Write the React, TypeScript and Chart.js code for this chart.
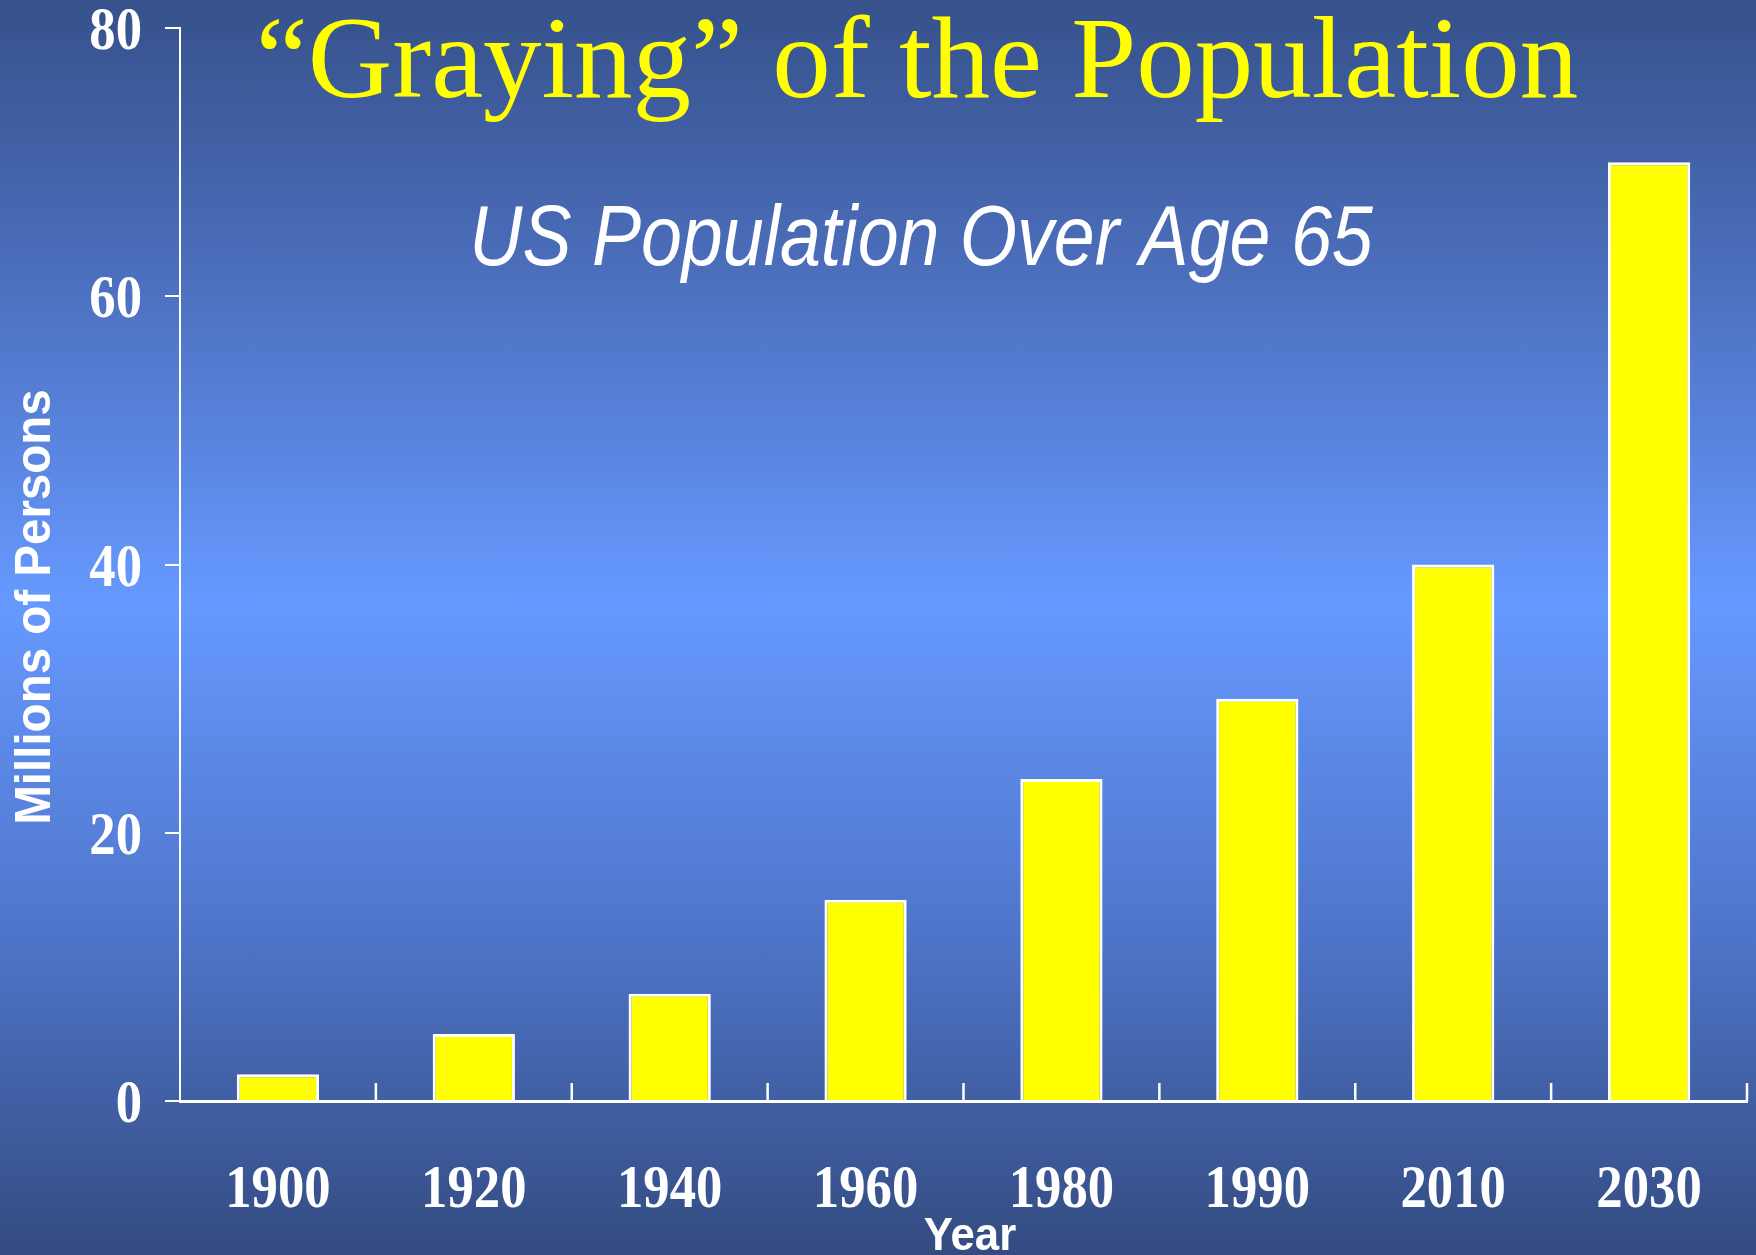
import React, { useEffect, useRef } from 'react';
import { Chart, registerables } from 'chart.js';

Chart.register(...registerables);

const categories = ['1900', '1920', '1940', '1960', '1980', '1990', '2010', '2030'];
const values = [2, 5, 8, 15, 24, 30, 40, 70];
const yTicks = [0, 20, 40, 60, 80];
const titleText = '\u201CGraying\u201D of the Population';
const subtitleText = 'US Population Over Age 65';
const yAxisTitle = 'Millions of Persons';
const xAxisTitle = 'Year';

const W = 1756;
const H = 1255;

function drawScaled(
  ctx: CanvasRenderingContext2D,
  text: string,
  x: number,
  y: number,
  font: string,
  sx: number,
  align: CanvasTextAlign,
  color: string,
  rotate = 0
) {
  ctx.save();
  ctx.translate(x, y);
  if (rotate) ctx.rotate(rotate);
  ctx.scale(sx, 1);
  ctx.font = font;
  ctx.fillStyle = color;
  ctx.textAlign = align;
  ctx.textBaseline = 'alphabetic';
  ctx.fillText(text, 0, 0);
  ctx.restore();
}

const overlayPlugin = {
  id: 'overlay',
  afterDraw(chart: any) {
    const ctx: CanvasRenderingContext2D = chart.ctx;
    const xs = chart.scales.x;
    const ys = chart.scales.y;
    const area = chart.chartArea;
    ctx.save();
    // category separator ticks (pointing up into the plot)
    ctx.strokeStyle = '#ffffff';
    ctx.lineWidth = 2.5;
    for (let i = 0; i < categories.length; i++) {
      const px =
        i < categories.length - 1
          ? (xs.getPixelForValue(i) + xs.getPixelForValue(i + 1)) / 2
          : area.right;
      ctx.beginPath();
      ctx.moveTo(px, area.bottom);
      ctx.lineTo(px, area.bottom - 18);
      ctx.stroke();
    }
    ctx.restore();

    const tickFont = 'bold 62px "Liberation Serif", "Times New Roman", serif';
    // y tick labels
    yTicks.forEach((v) => {
      const py = ys.getPixelForValue(v);
      drawScaled(ctx, String(v), area.left - 38, py + 21, tickFont, 0.85, 'right', '#ffffff');
    });
    // x tick labels
    categories.forEach((c, i) => {
      const px = xs.getPixelForValue(i);
      drawScaled(ctx, c, px, area.bottom + 106, tickFont, 0.85, 'center', '#ffffff');
    });

    // titles
    drawScaled(ctx, titleText, 917, 97, '117px "Liberation Serif", "Times New Roman", serif', 1, 'center', '#ffff00');
    drawScaled(ctx, subtitleText, 921, 265, 'italic 86px "Liberation Sans", Arial, sans-serif', 0.855, 'center', '#ffffff');
    // axis titles
    drawScaled(ctx, yAxisTitle, 50, 607, 'bold 50px "Liberation Sans", Arial, sans-serif', 0.95, 'center', '#ffffff', -Math.PI / 2);
    drawScaled(ctx, xAxisTitle, 970, 1250, 'bold 46px "Liberation Sans", Arial, sans-serif', 0.95, 'center', '#ffffff');
  },
};

export default function App() {
  const canvasRef = useRef<HTMLCanvasElement | null>(null);

  useEffect(() => {
    const canvas = canvasRef.current;
    if (!canvas) return;
    const chart = new Chart(canvas, {
      type: 'bar',
      data: {
        labels: categories,
        datasets: [
          {
            label: 'US Population Over Age 65',
            data: values,
            backgroundColor: '#ffff00',
            borderColor: '#ffffff',
            borderWidth: 3,
            borderSkipped: 'bottom',
            categoryPercentage: 1,
            barPercentage: 0.42,
          },
        ],
      },
      options: {
        responsive: false,
        animation: false,
        devicePixelRatio: 1,
        layout: { padding: { top: 28, right: 9, left: 0, bottom: 0 } },
        plugins: {
          legend: { display: false },
          tooltip: { enabled: false },
          title: { display: false },
        },
        scales: {
          x: {
            type: 'category',
            offset: true,
            grid: { display: false },
            border: { display: true, color: '#ffffff', width: 3, z: 1 },
            ticks: { display: false },
            afterFit: (scale: any) => {
              scale.height = 154;
              scale.paddingLeft = 0;
              scale.paddingRight = 0;
            },
          },
          y: {
            min: 0,
            max: 80,
            ticks: { display: false, stepSize: 20 },
            grid: {
              display: true,
              drawOnChartArea: false,
              drawTicks: true,
              tickLength: 15,
              color: '#ffffff',
              lineWidth: 2,
            },
            border: { display: true, color: '#ffffff', width: 2, z: 1 },
            afterFit: (scale: any) => {
              scale.width = 180;
              scale.paddingTop = 0;
              scale.paddingBottom = 0;
            },
          },
        },
      },
      plugins: [overlayPlugin],
    });
    return () => chart.destroy();
  }, []);

  return (
    <div
      style={{
        position: 'fixed',
        left: 0,
        top: 0,
        width: W,
        height: H,
        background:
          'linear-gradient(to bottom, #36518b 0%, #4a6cb8 20%, #6699ff 48%, #4e74c8 75%, #334b80 100%)',
      }}
    >
      <canvas ref={canvasRef} width={W} height={H} style={{ display: 'block', width: W, height: H }} />
    </div>
  );
}
